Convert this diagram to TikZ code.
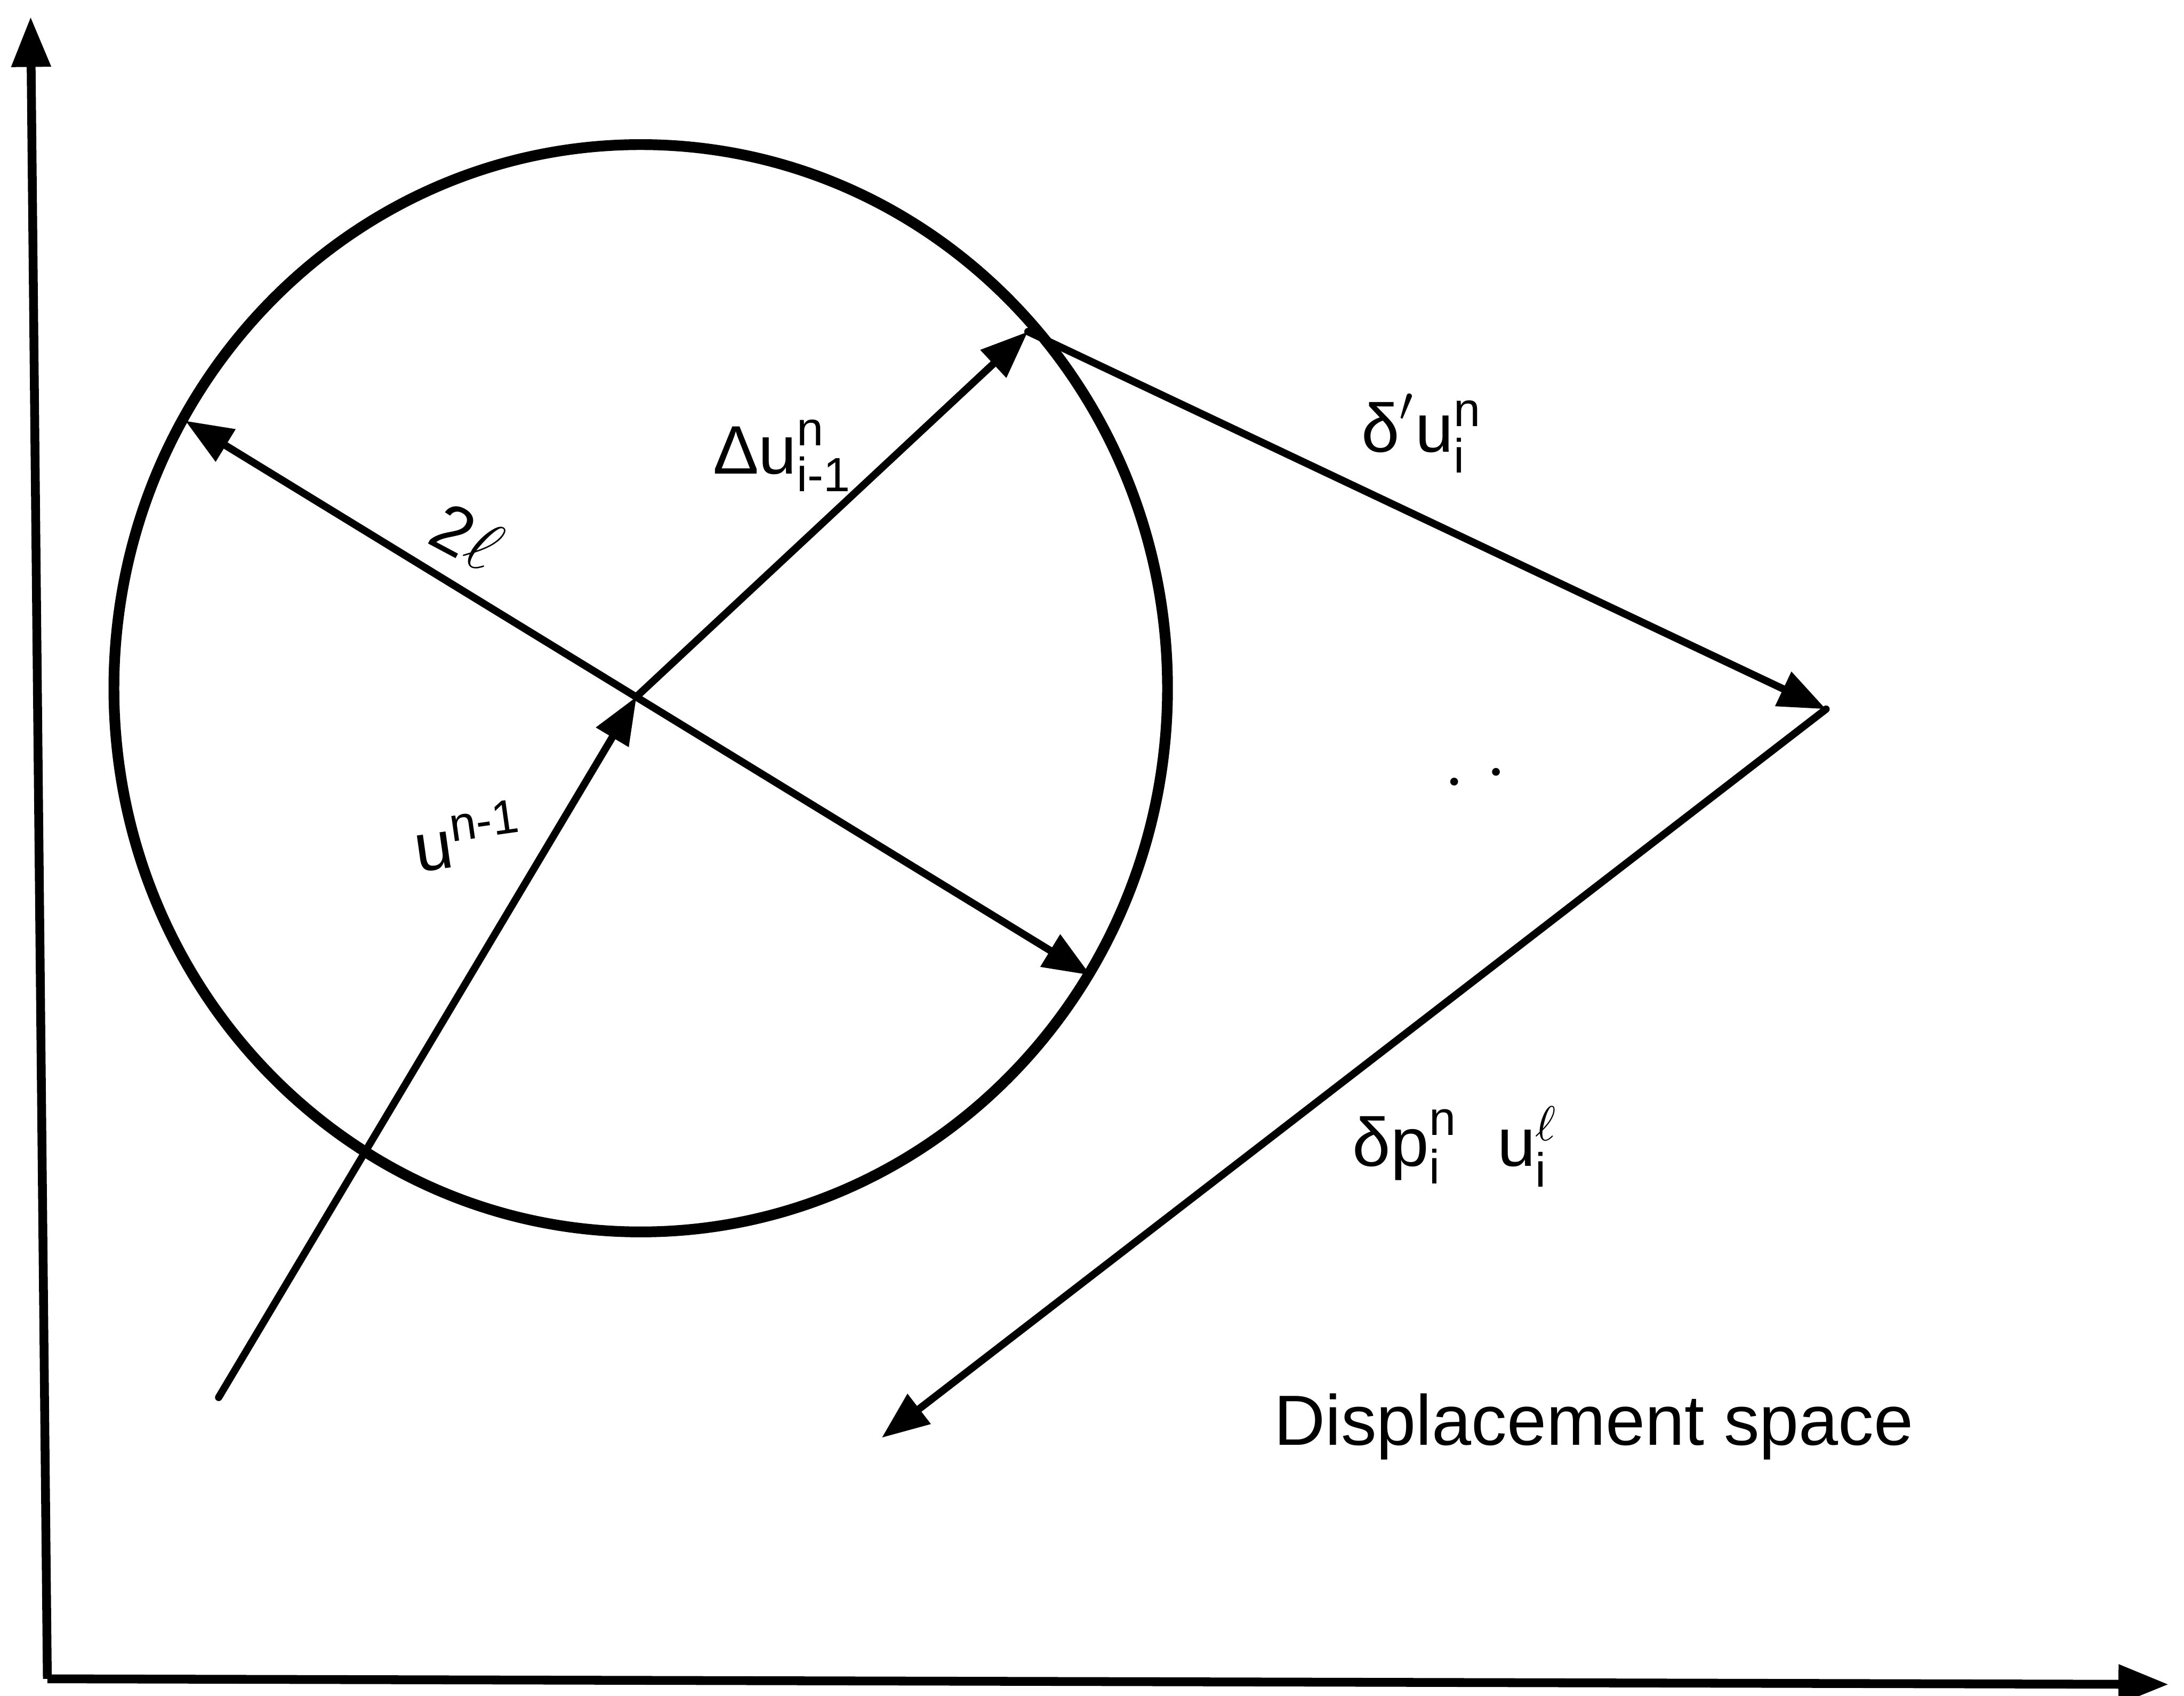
\documentclass[tikz,border=0pt]{standalone}
\usepackage{amsmath}
\usepackage{fontspec}
\setmainfont{Liberation Sans}
\usetikzlibrary{arrows.meta}
\begin{document}
\begin{tikzpicture}[x=0.01cm,y=-0.01cm,
  vec/.style={line width=1.5pt,line cap=round,-{Triangle[length=0.34cm,width=0.26cm]}},
  dvec/.style={line width=1.5pt,line cap=round,{Triangle[length=0.34cm,width=0.26cm]}-{Triangle[length=0.34cm,width=0.26cm]}},
  axisline/.style={line width=1.8pt,-{Triangle[length=0.36cm,width=0.27cm]}},
  lbl/.style={font=\fontsize{14}{16}\selectfont, inner sep=0pt}]
\useasboundingbox (0,0) rectangle (1568,1217);
% axes
\coordinate (orig) at (34,1205);
\coordinate (ytip) at (22,12);
\coordinate (xtip) at (1557,1209);
\draw[axisline] (orig) -- (ytip);
\draw[axisline] (orig) -- (xtip);
% circle
\coordinate (C) at (460,494);
\draw[line width=2.2pt] (C) ellipse [x radius=3.78cm, y radius=3.90cm];
% points
\coordinate (O) at (457,500);
\coordinate (S) at (157,1003);
\coordinate (A) at (738,238);
\coordinate (L1) at (133,302);
\coordinate (L2) at (783,700);
\coordinate (P) at (1311,509);
\coordinate (Q) at (633,1032);
% vectors
\draw[vec] (S) -- (O);
\draw[vec] (O) -- (A);
\draw[dvec] (L1) -- (L2);
\draw[vec] (A) -- (P);
\draw[vec] (P) -- (Q);
% labels
\node[lbl, rotate=-28] (l2) at (335,385) {$\text{2}\ell$};
\node[lbl] (ldu) at (562,327) {$\text{Δu}^{\text{n}}_{\text{i-1}}$};
\node[lbl] (ldpu) at (1021,311) {$\text{δ}'\text{u}^{\text{n}}_{\text{i}}$};
\node[lbl, rotate=8] (lun) at (336,600) {$\text{u}^{\text{n-1}}$};
\node[lbl] (ldp) at (1045,823) {$\text{δp}^{\text{n}}_{\text{i}}\;\;\text{u}^{\ell}_{\text{i}}$};
\fill (1044,561) circle (0.028cm);
\fill (1074,554) circle (0.028cm);
\node[lbl, font=\fontsize{14.5}{17}\selectfont, anchor=west] (ds) at (914,1024) {Displacement space};
\end{tikzpicture}
\end{document}
